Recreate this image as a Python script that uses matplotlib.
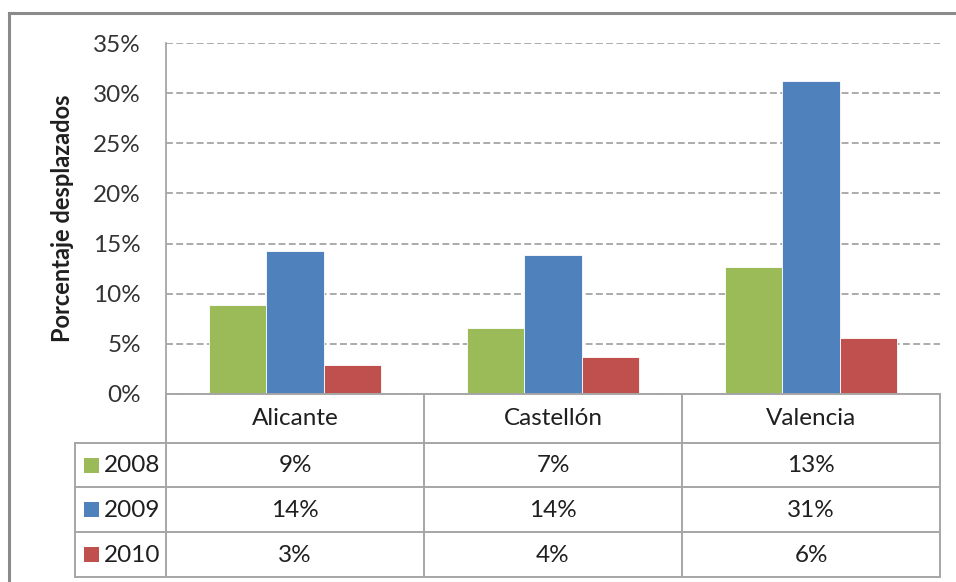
import matplotlib
matplotlib.use("Agg")
import matplotlib.pyplot as plt
from matplotlib.lines import Line2D
from matplotlib.patches import Rectangle
import numpy as np

# --- data ---------------------------------------------------------------
categories = ["Alicante", "Castellón", "Valencia"]
series_names = ["2008", "2009", "2010"]
values_2008 = [0.089, 0.066, 0.127]
values_2009 = [0.143, 0.139, 0.312]
values_2010 = [0.029, 0.037, 0.056]
series_values = [values_2008, values_2009, values_2010]
series_colors = ["#9BBB59", "#4F81BD", "#C0504D"]
y_ticks = [0.0, 0.05, 0.10, 0.15, 0.20, 0.25, 0.30, 0.35]
y_label = "Porcentaje desplazados"

W, H = 956, 582
DPI = 100
FONT = "Lato"
GRID = "#959595"
TABLE_LINE = "#a6a6a6"
TEXT = "#1f1f1f"
FS = 17.5

plt.rcParams["font.family"] = [FONT, "DejaVu Sans"]

fig = plt.figure(figsize=(W / DPI, H / DPI), dpi=DPI)


def fx(px):
    return px / W


def fy(py):
    return 1 - py / H


# plot area (pixel box)
PL, PR, PT, PB = 166, 940, 43, 394
TAB_L, TAB_B = 75, 577
row_edges = [394, 443, 487, 532, 577]

ax = fig.add_axes([fx(PL), fy(PB), fx(PR) - fx(PL), fy(PT) - fy(PB)])
n_cat = len(categories)
x = np.arange(n_cat)
bar_w = 0.222
for i, (vals, col) in enumerate(zip(series_values, series_colors)):
    ax.bar(x + (i - 1) * bar_w, vals, width=bar_w, color=col,
           edgecolor="white", linewidth=0.6, zorder=3)

ax.set_xlim(-0.5, n_cat - 0.5)
ax.set_ylim(0, 0.35)
ax.set_yticks(y_ticks)
ax.set_yticklabels([f"{int(round(t * 100))}%" for t in y_ticks],
                   fontsize=FS, color="#333333")
ax.tick_params(axis="y", length=0, pad=18)
ax.set_xticks([])
ax.yaxis.grid(True, color=GRID, linewidth=1.1, linestyle=(0, (4.5, 2.2)), zorder=0)
for s in ["top", "right", "bottom"]:
    ax.spines[s].set_visible(False)
ax.spines["left"].set_color(TABLE_LINE)
ax.spines["left"].set_linewidth(1.3)
ax.set_ylabel(y_label, fontsize=17, fontweight="bold", color=TEXT, labelpad=14)

# --- data table below the plot -------------------------------------------
tab = fig.add_axes([fx(TAB_L), fy(TAB_B), fx(PR) - fx(TAB_L), fy(PB) - fy(TAB_B)])
label_w = (PL - TAB_L) / (PR - PL) * n_cat
x_left = -0.5 - label_w
tab.set_xlim(x_left, n_cat - 0.5)
tab.set_ylim(TAB_B, PB)
tab.axis("off")

lw = 1.4
# horizontal lines
tab.plot([-0.5, n_cat - 0.5], [row_edges[0]] * 2, color=TABLE_LINE, lw=lw, clip_on=False)
for r in row_edges[1:]:
    tab.plot([x_left, n_cat - 0.5], [r, r], color=TABLE_LINE, lw=lw, clip_on=False)
# vertical lines
for k in range(n_cat + 1):
    xv = -0.5 + k
    tab.plot([xv, xv], [row_edges[0], row_edges[-1]], color=TABLE_LINE, lw=lw, clip_on=False)
tab.plot([x_left, x_left], [row_edges[1], row_edges[-1]], color=TABLE_LINE, lw=lw, clip_on=False)

# header row
hy = (row_edges[0] + row_edges[1]) / 2
for i, c in enumerate(categories):
    tab.text(i, hy, c, ha="center", va="center", fontsize=FS, color=TEXT)


def pct(v):
    return f"{int(v * 100 + 0.5)}%"


for r, (name, vals, col) in enumerate(zip(series_names, series_values, series_colors)):
    cy = (row_edges[r + 1] + row_edges[r + 2]) / 2
    # legend key
    key_px = 15
    key_x0 = x_left + (84 - TAB_L) / (PR - PL) * n_cat
    key_w = key_px / (PR - PL) * n_cat
    tab.add_patch(Rectangle((key_x0, cy - key_px / 2), key_w, key_px,
                            facecolor=col, edgecolor="none", clip_on=False))
    tab.text(key_x0 + key_w + 5 / (PR - PL) * n_cat, cy + 1, name,
             ha="left", va="center", fontsize=FS, color=TEXT)
    for i, v in enumerate(vals):
        tab.text(i, cy + 1, pct(v), ha="center", va="center", fontsize=FS, color=TEXT)

# outer chart frame
frame_c = "#8a8a8a"
fig.add_artist(Line2D([fx(9), fx(9)], [fy(13), 0], color=frame_c, lw=2.2,
                      transform=fig.transFigure))
fig.add_artist(Line2D([fx(9), 1], [fy(13), fy(13)], color=frame_c, lw=2.2,
                      transform=fig.transFigure))

fig.savefig("out.png", dpi=DPI, facecolor="white")
